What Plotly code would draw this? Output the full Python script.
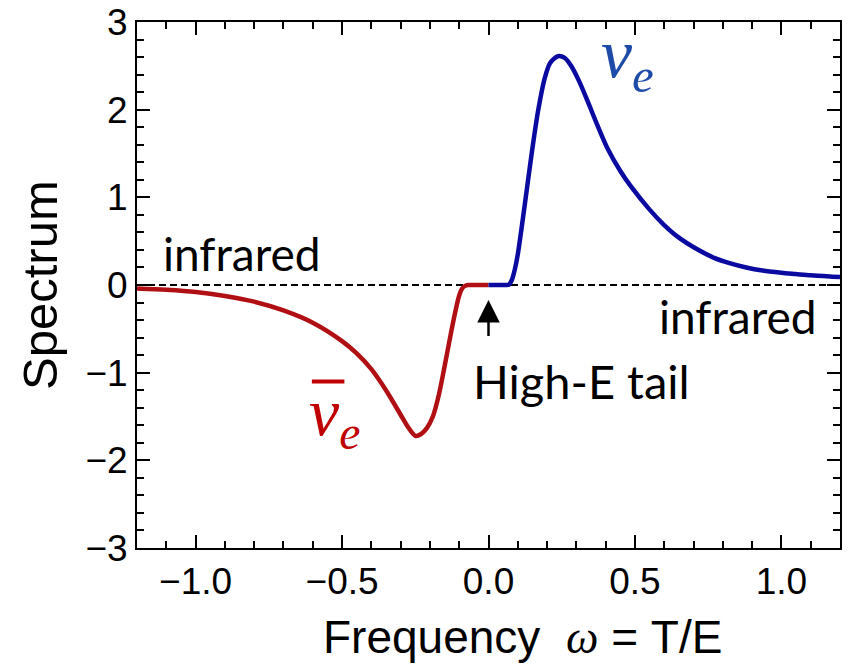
import plotly.graph_objects as go

# ---------------- data ----------------
anti_x = [-1.2, -1.1, -1.0, -0.9, -0.8, -0.7, -0.6, -0.5, -0.45, -0.4, -0.35, -0.3,
          -0.275, -0.25, -0.23, -0.21, -0.19, -0.17, -0.15, -0.13, -0.115, -0.10,
          -0.09, -0.08, -0.07, -0.04, 0.0]
anti_y = [-0.04, -0.055, -0.08, -0.125, -0.19, -0.29, -0.43, -0.64, -0.78, -0.96, -1.20, -1.48,
          -1.62, -1.72, -1.70, -1.63, -1.50, -1.26, -0.93, -0.58, -0.33, -0.12,
          -0.04, -0.01, 0.0, 0.0, 0.0]

nu_x = [0.0, 0.03, 0.06, 0.07, 0.08, 0.09, 0.10, 0.124, 0.147, 0.169, 0.192, 0.21,
        0.237, 0.26, 0.282, 0.31, 0.338, 0.372, 0.406, 0.45, 0.485, 0.55, 0.598,
        0.65, 0.711, 0.77, 0.823, 0.88, 0.936, 1.0, 1.049, 1.1, 1.173, 1.2]
nu_y = [0.0, 0.0, 0.0, 0.005, 0.06, 0.18, 0.35, 0.92, 1.49, 1.98, 2.36, 2.53,
        2.61, 2.59, 2.50, 2.32, 2.10, 1.82, 1.56, 1.30, 1.13, 0.86, 0.69,
        0.54, 0.41, 0.31, 0.25, 0.20, 0.165, 0.14, 0.125, 0.11, 0.095, 0.09]

x_range = [-1.2, 1.2]
y_range = [-3, 3]
x_tickvals = [-1.0, -0.5, 0.0, 0.5, 1.0]
x_ticktext = ["\u22121.0", "\u22120.5", "0.0", "0.5", "1.0"]
y_tickvals = [-3, -2, -1, 0, 1, 2, 3]
y_ticktext = ["\u22123", "\u22122", "\u22121", "0", "1", "2", "3"]

RED = "#B01014"
BLUE = "#0A0AA0"
LABEL_RED = "#C00000"
LABEL_BLUE = "#1F4BA8"
AXFONT = "Liberation Sans, Arial, sans-serif"
ANNFONT = "Lato, Open Sans, sans-serif"
SERIF = "Liberation Serif, DejaVu Serif, serif"

# label anchors (data coords)
ANTI_LABEL = (-0.525, -1.50)
NU_LABEL = (0.475, 2.58)

fig = go.Figure()

fig.add_hline(y=0, line=dict(color="black", width=2.2, dash="7px,4px"), layer="below")

fig.add_trace(go.Scatter(x=anti_x, y=anti_y, mode="lines",
                         line=dict(color=RED, width=4.5, shape="spline", smoothing=0.8),
                         showlegend=False, hoverinfo="skip"))
fig.add_trace(go.Scatter(x=nu_x, y=nu_y, mode="lines",
                         line=dict(color=BLUE, width=4.5, shape="spline", smoothing=0.8),
                         showlegend=False, hoverinfo="skip"))

axis_common = dict(showline=True, linecolor="black", linewidth=2, mirror="ticks",
                   ticks="inside", ticklen=13, tickwidth=2, tickcolor="black",
                   showgrid=False, zeroline=False, automargin=False,
                   tickfont=dict(family=AXFONT, size=37, color="black"))

fig.update_xaxes(range=x_range, tickvals=x_tickvals, ticktext=x_ticktext,
                 minor=dict(ticks="inside", ticklen=7, tickwidth=2, dtick=0.1,
                            tickcolor="black"),
                 **axis_common)
fig.update_yaxes(range=y_range, tickvals=y_tickvals, ticktext=y_ticktext,
                 minor=dict(ticks="inside", ticklen=7, tickwidth=2, dtick=0.2,
                            tickcolor="black"),
                 **axis_common)

# overline bar of the anti-neutrino symbol (text decoration, placed relative to the label)
fig.add_shape(type="line", xref="x", yref="y",
              x0=ANTI_LABEL[0] - 0.078, x1=ANTI_LABEL[0] + 0.033,
              y0=ANTI_LABEL[1] + 0.40, y1=ANTI_LABEL[1] + 0.40,
              line=dict(color=LABEL_RED, width=4))

annotations = [
    dict(x=-0.843, y=0.36, xref="x", yref="y", text="infrared", showarrow=False,
         font=dict(family=ANNFONT, size=46, color="black"), xanchor="center", yanchor="middle"),
    dict(x=0.853, y=-0.36, xref="x", yref="y", text="infrared", showarrow=False,
         font=dict(family=ANNFONT, size=46, color="black"), xanchor="center", yanchor="middle"),
    dict(x=0.318, y=-1.1, xref="x", yref="y", text="High-E tail", showarrow=False,
         font=dict(family=ANNFONT, size=47, color="black"), xanchor="center", yanchor="middle"),
    dict(x=0.0, y=-0.17, ax=0.0, ay=-0.60, xref="x", yref="y", axref="x", ayref="y",
         text="", showarrow=True, arrowhead=2, arrowsize=1.8, arrowwidth=2.5,
         arrowcolor="black", standoff=0),
    dict(x=NU_LABEL[0], y=NU_LABEL[1], xref="x", yref="y",
         text="<i>\u03bd<sub>e</sub></i>", showarrow=False,
         font=dict(family=SERIF, size=70, color=LABEL_BLUE),
         xanchor="center", yanchor="middle"),
    dict(x=ANTI_LABEL[0], y=ANTI_LABEL[1], xref="x", yref="y",
         text="<i>\u03bd<sub>e</sub></i>",
         showarrow=False,
         font=dict(family=SERIF, size=68, color=LABEL_RED),
         xanchor="center", yanchor="middle"),
    dict(x=0.548, y=-0.222, xref="paper", yref="paper",
         text="Frequency  <span style=\"font-family:'Liberation Serif'\"><i>\u03c9</i></span> = T/E",
         showarrow=False, font=dict(family=AXFONT, size=46, color="black"),
         xanchor="center", yanchor="bottom"),
    dict(x=-0.138, y=0.5, xref="paper", yref="paper", text="Spectrum", textangle=-90,
         showarrow=False, font=dict(family=AXFONT, size=49, color="black"),
         xanchor="center", yanchor="middle"),
]

fig.update_layout(width=850, height=665,
                  margin=dict(l=137, r=10, t=22, b=117),
                  paper_bgcolor="white", plot_bgcolor="white",
                  annotations=annotations, showlegend=False)

fig.write_html("out.html", config={"displayModeBar": False},
               post_script="document.body.style.margin='0';document.body.style.overflow='hidden';")
